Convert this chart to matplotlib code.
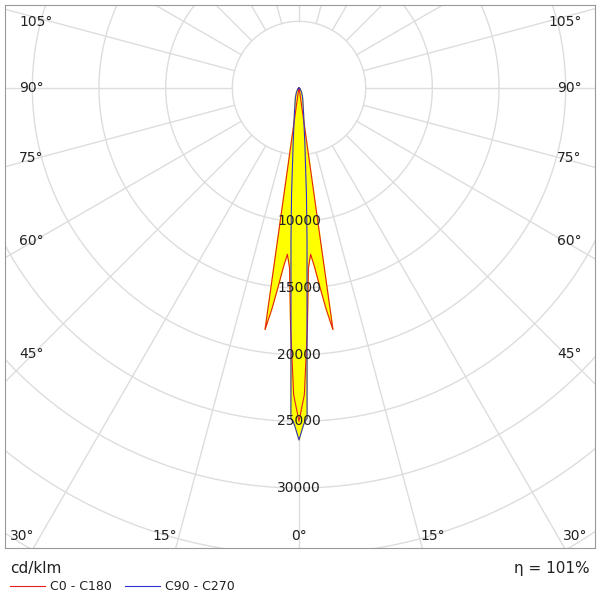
import numpy as np
import matplotlib
matplotlib.use("Agg")
import matplotlib.pyplot as plt

# intensity data (cd/klm) vs gamma angle in degrees
gamma_c0 = [0, 1, 2, 3, 4, 5, 6, 7, 8, 8.6, 10, 20, 90]
int_c0 = [25000, 23000, 18000, 13500, 12500, 13500, 15000, 16700, 18300, 800, 200, 50, 0]
gamma_c90 = [0, 0.6, 1.0, 1.4, 2, 3, 4, 6, 10, 20, 30, 60, 90]
int_c90 = [26400, 25500, 25000, 24800, 17200, 11500, 8000, 4200, 2000, 800, 400, 100, 0]
rings = [5000, 10000, 15000, 20000, 25000, 30000, 35000, 40000, 45000]
ring_labels = [10000, 15000, 20000, 25000, 30000]

fig = plt.figure(figsize=(6, 6), dpi=100)
ax = fig.add_axes([5/600, 52/600, 590/600, 543/600])
ax.set_xlim(-22050, 22200)
ax.set_ylim(-34500, 6225)
ax.set_aspect("equal")
ax.set_xticks([])
ax.set_yticks([])
for s in ax.spines.values():
    s.set_color("#999999")
    s.set_linewidth(0.8)

t = np.linspace(0, 2 * np.pi, 400)
for r in rings:
    ax.plot(r * np.cos(t), r * np.sin(t), color="#dddddd", lw=1, zorder=1)
for a in range(0, 360, 15):
    ar = np.radians(a)
    ax.plot([5000 * np.sin(ar), 60000 * np.sin(ar)],
            [-5000 * np.cos(ar), -60000 * np.cos(ar)], color="#dddddd", lw=1, zorder=1)


def curve(g, i):
    g = np.radians(np.concatenate([-np.array(g)[::-1], g]))
    i = np.concatenate([np.array(i)[::-1], i])
    return i * np.sin(g), -i * np.cos(g)


x0, y0 = curve(gamma_c0, int_c0)
x9, y9 = curve(gamma_c90, int_c90)
ax.fill(x0, y0, color="#ffff00", zorder=2)
ax.fill(x9, y9, color="#ffff00", zorder=2)
ax.plot(x0, y0, color="#e02020", lw=0.8, zorder=3)
ax.plot(x9, y9, color="#3030d0", lw=0.8, zorder=3)

for r in ring_labels:
    ax.text(0, -r, str(r), ha="center", va="center", fontsize=10, color="#222222", zorder=4)

# angle labels
fs = 10
for a, yp in [(105, 22), (90, 88), (75, 158), (60, 241), (45, 354)]:
    yd = (88 - yp) / 0.013333
    ax.text(-21000, yd, f"{a}°", ha="left", va="center", fontsize=fs, color="#222222")
    ax.text(21200, yd, f"{a}°", ha="right", va="center", fontsize=fs, color="#222222")
for a, xp in [(30, 22), (15, 165), (0, 299), (15, 433), (30, 575)]:
    xd = (xp - 299) / 0.013333
    ax.text(xd, -33600, f"{a}°", ha="center", va="center", fontsize=fs, color="#222222")

fig.text(10/600, 1 - 568/600, "cd/klm", fontsize=11, va="center", color="#222222")
fig.text(590/600, 1 - 568/600, "η = 101%", fontsize=11, va="center", ha="right", color="#222222")
fig.add_artist(plt.Line2D([10/600, 45/600], [1 - 586/600] * 2, color="#e02020", lw=0.8))
fig.text(50/600, 1 - 586/600, "C0 - C180", fontsize=9, va="center", color="#222222")
fig.add_artist(plt.Line2D([125/600, 160/600], [1 - 586/600] * 2, color="#3030d0", lw=0.8))
fig.text(165/600, 1 - 586/600, "C90 - C270", fontsize=9, va="center", color="#222222")

fig.savefig("out.png", dpi=100, facecolor="white")
